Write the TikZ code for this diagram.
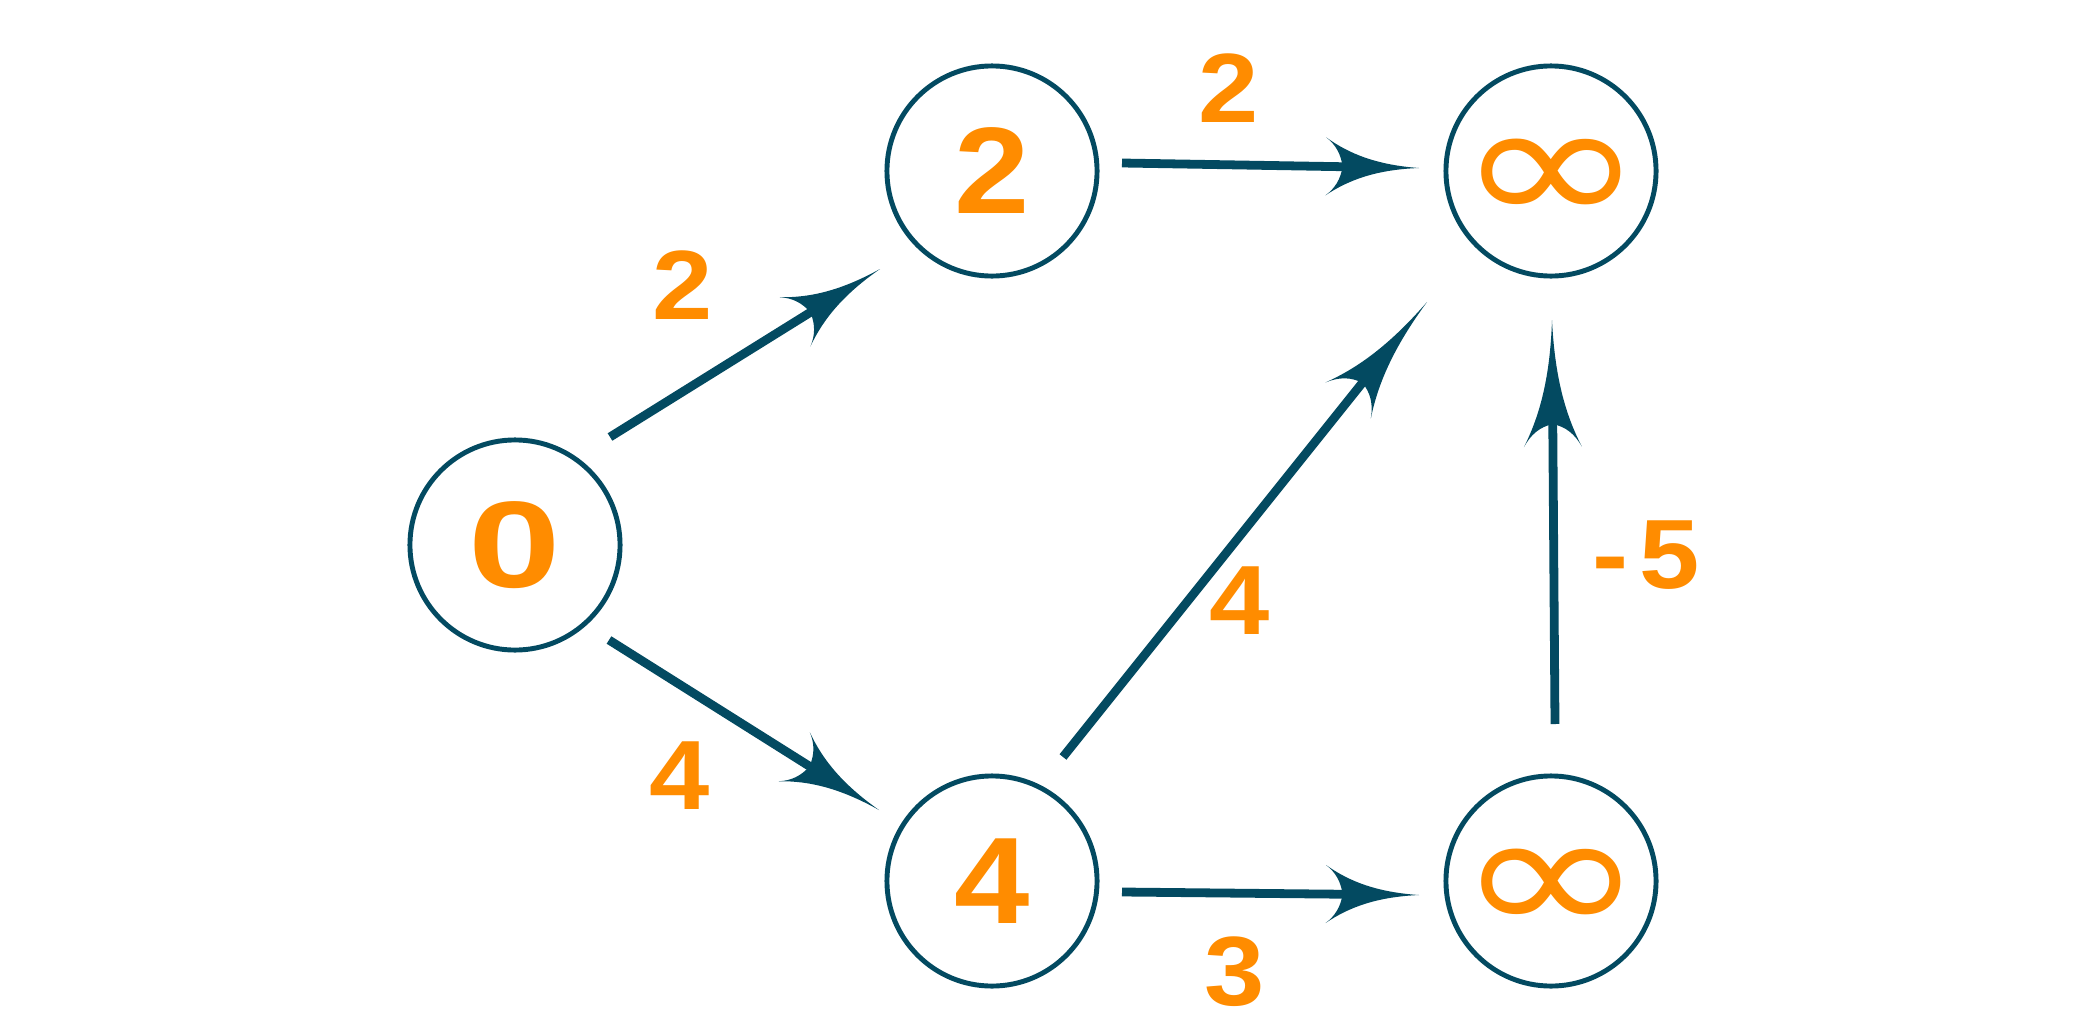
\documentclass[tikz,border=0pt]{standalone}
\usepackage{fontspec}
\usepackage{graphicx}
\setmainfont{Liberation Sans}
\newfontfamily\symfont{DejaVu Sans}
\usetikzlibrary{arrows.meta,calc}
\definecolor{edgeblue}{HTML}{034A61}
\definecolor{accent}{HTML}{FF8C00}
\newcommand{\widen}[2][1.1]{\scalebox{#1}[1]{#2}}
\pgfdeclarearrow{
  name = Swoosh,
  parameters = {\the\pgfarrowlength,\the\pgfarrowwidth},
  setup code = {
    \pgfarrowssettipend{0pt}
    \pgfarrowssetlineend{-0.8\pgfarrowlength}
    \pgfarrowssetbackend{-\pgfarrowlength}
    \pgfarrowssavethe\pgfarrowlength
    \pgfarrowssavethe\pgfarrowwidth
  },
  drawing code = {
    \pgfpathmoveto{\pgfqpoint{0pt}{0pt}}
    \pgfpathcurveto{\pgfqpoint{-.45\pgfarrowlength}{.04\pgfarrowwidth}}{\pgfqpoint{-.75\pgfarrowlength}{.22\pgfarrowwidth}}{\pgfqpoint{-\pgfarrowlength}{.5\pgfarrowwidth}}
    \pgfpathcurveto{\pgfqpoint{-.9\pgfarrowlength}{.38\pgfarrowwidth}}{\pgfqpoint{-.84\pgfarrowlength}{.22\pgfarrowwidth}}{\pgfqpoint{-.82\pgfarrowlength}{0pt}}
    \pgfpathcurveto{\pgfqpoint{-.84\pgfarrowlength}{-.22\pgfarrowwidth}}{\pgfqpoint{-.9\pgfarrowlength}{-.38\pgfarrowwidth}}{\pgfqpoint{-\pgfarrowlength}{-.5\pgfarrowwidth}}
    \pgfpathcurveto{\pgfqpoint{-.75\pgfarrowlength}{-.22\pgfarrowwidth}}{\pgfqpoint{-.45\pgfarrowlength}{-.04\pgfarrowwidth}}{\pgfqpoint{0pt}{0pt}}
    \pgfpathclose
    \pgfusepathqfill
  },
  defaults = {length = 28pt, width = 16.5pt}
}
\begin{document}
\begin{tikzpicture}[x=0.01cm,y=-0.01cm,
  vertex/.style={circle, draw=edgeblue, line width=1.4pt, minimum size=2.1cm, inner sep=0pt,
    text=accent, font=\fontsize{35}{35}\selectfont\bfseries},
  wlabel/.style={text=accent, inner sep=0pt, font=\fontsize{28}{28}\selectfont\bfseries},
  inf/.style={text=accent, inner sep=0pt, yshift=-0.105cm, font=\symfont\fontsize{64}{64}\selectfont},
  conn/.style={draw=edgeblue, line width=2.5pt, -{Swoosh[length=#1, width=16.5pt, color=edgeblue, fill=edgeblue]}},
]
\fill[white] (0,0) rectangle (2099,1024);
\useasboundingbox (0,0) rectangle (2099,1024);

\node[vertex] (n0) at (515,545) {\widen[1.35]{0}};
\node[vertex] (n2) at (992,171) {\widen{2}};
\node[vertex] (nT) at (1551,171) {};
\node[vertex] (n4) at (992,881) {\widen{4}};
\node[vertex] (nB) at (1551,881) {};
\node[inf] (infT) at (nT) {\scalebox{1}[0.78]{∞}};
\node[inf] (infB) at (nB) {\scalebox{1}[0.78]{∞}};

\draw[conn=28.45pt] ($(n0)+(95,-108)$) -- ($(n2)+(-112,98)$);
\draw[conn=28.45pt] ($(n0)+(94,95)$) -- ($(n4)+(-113,-71)$);
\draw[conn=26.5pt] ($(n2)+(130,-8)$) -- ($(nT)+(-132,-3)$);
\draw[conn=35.9pt] ($(n4)+(71,-124)$) -- ($(nT)+(-124,131)$);
\draw[conn=26.5pt] ($(n4)+(130,11)$) -- ($(nB)+(-132,14)$);
\draw[conn=36.1pt] ($(nB)+(4,-157)$) -- ($(nT)+(1,149)$);

\node[wlabel] (w02) at (683,285) {\widen{2}};
\node[wlabel] (w04) at (680,776) {\widen{4}};
\node[wlabel] (w2T) at (1229,88) {\widen{2}};
\node[wlabel] (w4T) at (1240,601) {\widen{4}};
\node[wlabel] (w4B) at (1235,972) {\widen{3}};
\node[wlabel] (wBT) at (1646,555) {\widen{-\kern 0.1em 5}};
\end{tikzpicture}
\end{document}
